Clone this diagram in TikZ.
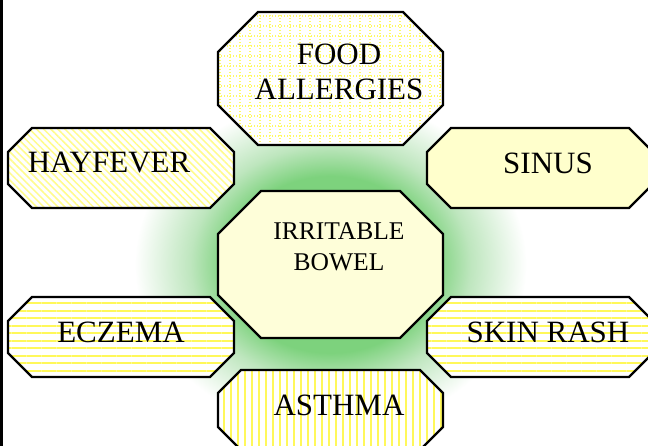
\documentclass[tikz,border=0pt]{standalone}
\usepackage{fontspec}
\setmainfont{Liberation Serif}
\usetikzlibrary{patterns.meta}

\definecolor{amarillo1}{RGB}{255,248,90}
\definecolor{amarillo2}{RGB}{255,252,140}
\definecolor{amarillo3}{RGB}{255,250,100}
\definecolor{relleno1}{RGB}{255,255,204}
\definecolor{relleno2}{RGB}{254,254,217}
\definecolor{verde1}{RGB}{125,210,125}
\definecolor{verde2}{RGB}{190,230,190}

% Resplandor radial detrás del octógono central
\pgfdeclareradialshading{resplandor}{\pgfpoint{0bp}{0bp}}{color(0bp)=(verde1); color(13bp)=(verde1); color(17.5bp)=(verde2); color(24.5bp)=(white); color(50bp)=(white)}

% Octógono: (#1,#2) esquina inferior izquierda, (#3,#4) superior derecha, #5 chaflán
\newcommand{\octogono}[5]{(#1+#5,#2) -- (#3-#5,#2) -- (#3,#2+#5) -- (#3,#4-#5) -- (#3-#5,#4) -- (#1+#5,#4) -- (#1,#4-#5) -- (#1,#2+#5) -- cycle}

\begin{document}
\begin{tikzpicture}[line join=miter, x=1pt, y=1pt,
		borde/.style={draw=black, line width=2.2pt},
		texto/.style={font=\fontsize{31}{35}\selectfont, align=center, text=black}]
		
		% Delimitar ventana de dibujo
		\useasboundingbox (0,0) rectangle (648,446);
		\clip (0,0) rectangle (648,446);
		
		% Resplandor verde
		\shade[shading=resplandor] (330.5,181.5) ellipse [x radius=200, y radius=170];
		
		% Barra negra a la izquierda
		\fill[black] (0,0) rectangle (3,446);
		
		% FOOD ALLERGIES (cuadrícula punteada)
		\fill[white] \octogono{218}{301}{443}{434}{40};
		\begin{scope}
			\clip \octogono{218}{301}{443}{434}{40};
			\draw[amarillo3, line width=1.2pt, dash pattern=on 1.4pt off 1.6pt, step=10pt] (218,301) grid (443,434);
		\end{scope}
		\draw[borde] \octogono{218}{301}{443}{434}{40};
		
		% HAYFEVER (rayas diagonales)
		\draw[borde, preaction={fill=white}, pattern={Lines[angle=-45, distance=5pt, line width=1.5pt]}, pattern color=amarillo2] \octogono{8}{238}{234}{318}{24};
		
		% SINUS (relleno liso)
		\draw[borde, fill=relleno1] \octogono{427}{238}{653}{318}{24};
		
		% ECZEMA y SKIN RASH (rayas horizontales)
		\draw[borde, preaction={fill=white}, pattern={Lines[angle=0, distance=7.5pt, line width=2pt]}, pattern color=amarillo1] \octogono{8}{69}{234}{149}{24};
		\draw[borde, preaction={fill=white}, pattern={Lines[angle=0, distance=7.5pt, line width=2pt]}, pattern color=amarillo1] \octogono{427}{69}{653}{149}{24};
		
		% ASTHMA (rayas verticales)
		\draw[borde, preaction={fill=white}, pattern={Lines[angle=90, distance=7pt, line width=2pt]}, pattern color=amarillo1] \octogono{218}{-4}{443}{76}{23};
		
		% IRRITABLE BOWEL (centro)
		\draw[borde, fill=relleno2] \octogono{218}{108}{443}{255}{43};
		
		% Etiquetas
		\node[texto] (comida) at (339,374) {FOOD\\ALLERGIES};
		\node[texto] (fiebre) at (109,283) {HAYFEVER};
		\node[texto] (sinus) at (548,283) {SINUS};
		\node[texto] (eczema) at (121,114) {ECZEMA};
		\node[texto] (piel) at (548,114) {SKIN RASH};
		\node[texto] (asma) at (339,41) {ASTHMA};
		\node[texto, font=\fontsize{25.5}{31}\selectfont] (colon) at (339,199) {IRRITABLE\\BOWEL};
		
	\end{tikzpicture}
\end{document}
